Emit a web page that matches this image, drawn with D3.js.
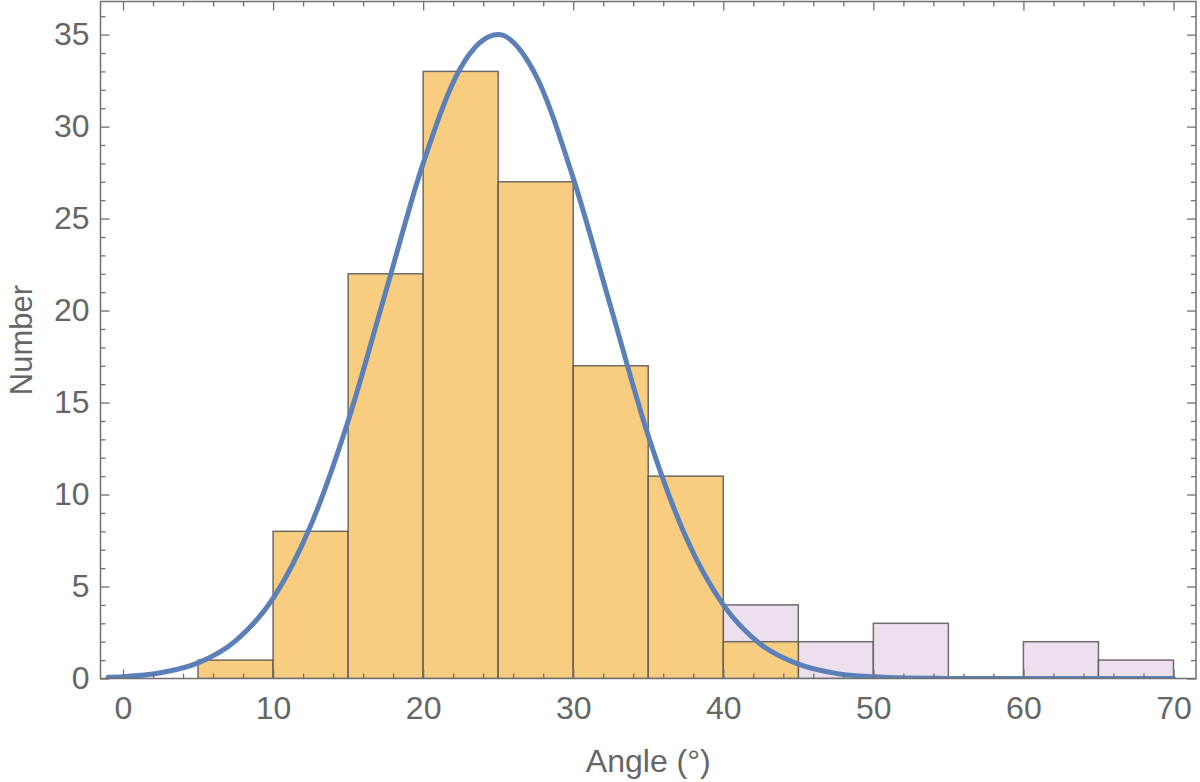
<!DOCTYPE html>
<html>
<head>
<meta charset="utf-8">
<script src="https://cdn.jsdelivr.net/npm/d3@7"></script>
<style>
  body { margin: 0; background: #fff; }
  svg text { font-family: "Liberation Sans", Arial, sans-serif; }
</style>
</head>
<body>
<div id="chart"></div>
<script>
// histogram bins (left edges, width 5)
const binWidth = 5;
const mainBins = [5, 10, 15, 20, 25, 30, 35, 40];
const mainCounts = [1, 8, 22, 33, 27, 17, 11, 2];
const tailBins = [40, 45, 50, 55, 60, 65];
const tailCounts = [4, 2, 3, 0, 2, 1];

// fitted curve
const curveX = [-1, 0, 2.5, 5, 7.5, 10, 12.5, 15, 17.5, 20, 22.5, 25, 27.5, 30, 32.5, 35, 37.5, 40, 42.5, 45, 47.5, 50, 52.5, 55, 60, 65, 70];
const curveY = [0.07, 0.1, 0.31, 0.85, 2.05, 4.35, 8.3, 14.0, 21.0, 28.0, 33.2, 35.0, 32.8, 27.2, 20.2, 13.2, 7.7, 4.0, 1.85, 0.78, 0.28, 0.09, 0.025, 0.006, 0, 0, 0];

const xMajor = [0, 10, 20, 30, 40, 50, 60, 70];
const yMajor = [0, 5, 10, 15, 20, 25, 30, 35];

const W = 1200, H = 782;
const frame = { left: 100.5, right: 1196, top: 1.5, bottom: 678.5 };

const svg = d3.select("#chart").append("svg")
  .attr("width", W)
  .attr("height", H);

const x = d3.scaleLinear().domain([-1.5, 71.5]).range([frame.left, frame.right]);
const y = d3.scaleLinear().domain([0, 36.8]).range([frame.bottom, frame.top]);

svg.append("clipPath").attr("id", "plotClip")
  .append("rect")
  .attr("x", frame.left).attr("y", frame.top)
  .attr("width", frame.right - frame.left)
  .attr("height", frame.bottom - frame.top);

const plot = svg.append("g").attr("clip-path", "url(#plotClip)");

const tail = tailBins.map((b, i) => ({ x0: b, n: tailCounts[i] })).filter((d) => d.n > 0);
const main = mainBins.map((b, i) => ({ x0: b, n: mainCounts[i] }));

plot.append("g").selectAll("rect").data(tail).join("rect")
  .attr("x", (d) => x(d.x0))
  .attr("y", (d) => y(d.n))
  .attr("width", (d) => x(d.x0 + binWidth) - x(d.x0))
  .attr("height", (d) => y(0) - y(d.n))
  .attr("fill", "#ede0ee")
  .attr("stroke", "#555")
  .attr("stroke-opacity", 0.85)
  .attr("stroke-width", 1.5);

plot.append("g").selectAll("rect").data(main).join("rect")
  .attr("x", (d) => x(d.x0))
  .attr("y", (d) => y(d.n))
  .attr("width", (d) => x(d.x0 + binWidth) - x(d.x0))
  .attr("height", (d) => y(0) - y(d.n))
  .attr("fill", "#f9cd80")
  .attr("stroke", "#555")
  .attr("stroke-opacity", 0.85)
  .attr("stroke-width", 1.5);

const line = d3.line()
  .x((d, i) => x(curveX[i]))
  .y((d) => y(d))
  .curve(d3.curveMonotoneX);

plot.append("path")
  .datum(curveY)
  .attr("d", line)
  .attr("fill", "none")
  .attr("stroke", "#5b80b9")
  .attr("stroke-width", 5)
  .attr("stroke-linecap", "round");

// frame + ticks
const tickColor = "#707070";
const minorX = d3.range(-0, 72, 2).filter((v) => v % 10 !== 0);
const minorY = d3.range(0, 37, 1).filter((v) => v % 5 !== 0);

function styleAxis(g) {
  g.select(".domain").remove();
  g.selectAll(".tick line").attr("stroke", tickColor).attr("stroke-width", 1.3);
  g.selectAll(".tick text")
    .attr("fill", "#666")
    .attr("font-size", "32px")
    .attr("font-family", "Liberation Sans, Arial, sans-serif");
}

svg.append("g")
  .attr("transform", `translate(0,${frame.bottom})`)
  .call(d3.axisBottom(x).tickValues(xMajor).tickSize(-9).tickPadding(18).tickFormat(d3.format("d")))
  .call(styleAxis);
svg.append("g")
  .attr("transform", `translate(0,${frame.bottom})`)
  .call(d3.axisBottom(x).tickValues(minorX).tickSize(-5).tickFormat(""))
  .call(styleAxis);
svg.append("g")
  .attr("transform", `translate(0,${frame.top})`)
  .call(d3.axisTop(x).tickValues(xMajor).tickSize(-9).tickFormat(""))
  .call(styleAxis);
svg.append("g")
  .attr("transform", `translate(0,${frame.top})`)
  .call(d3.axisTop(x).tickValues(minorX).tickSize(-5).tickFormat(""))
  .call(styleAxis);

svg.append("g")
  .attr("transform", `translate(${frame.left},0)`)
  .call(d3.axisLeft(y).tickValues(yMajor).tickSize(-9).tickPadding(11).tickFormat(d3.format("d")))
  .call(styleAxis);
svg.append("g")
  .attr("transform", `translate(${frame.left},0)`)
  .call(d3.axisLeft(y).tickValues(minorY).tickSize(-5).tickFormat(""))
  .call(styleAxis);
svg.append("g")
  .attr("transform", `translate(${frame.right},0)`)
  .call(d3.axisRight(y).tickValues(yMajor).tickSize(-9).tickFormat(""))
  .call(styleAxis);
svg.append("g")
  .attr("transform", `translate(${frame.right},0)`)
  .call(d3.axisRight(y).tickValues(minorY).tickSize(-5).tickFormat(""))
  .call(styleAxis);

svg.append("rect")
  .attr("x", frame.left).attr("y", frame.top)
  .attr("width", frame.right - frame.left)
  .attr("height", frame.bottom - frame.top)
  .attr("fill", "none")
  .attr("stroke", tickColor)
  .attr("stroke-width", 1.5);

// axis titles
svg.append("text")
  .attr("x", (frame.left + frame.right) / 2)
  .attr("y", 772)
  .attr("text-anchor", "middle")
  .attr("fill", "#666")
  .attr("font-size", "32px")
  .text("Angle (°)");

svg.append("text")
  .attr("transform", `translate(32,${(frame.top + frame.bottom) / 2}) rotate(-90)`)
  .attr("text-anchor", "middle")
  .attr("fill", "#666")
  .attr("font-size", "31px")
  .text("Number");
</script>
</body>
</html>
